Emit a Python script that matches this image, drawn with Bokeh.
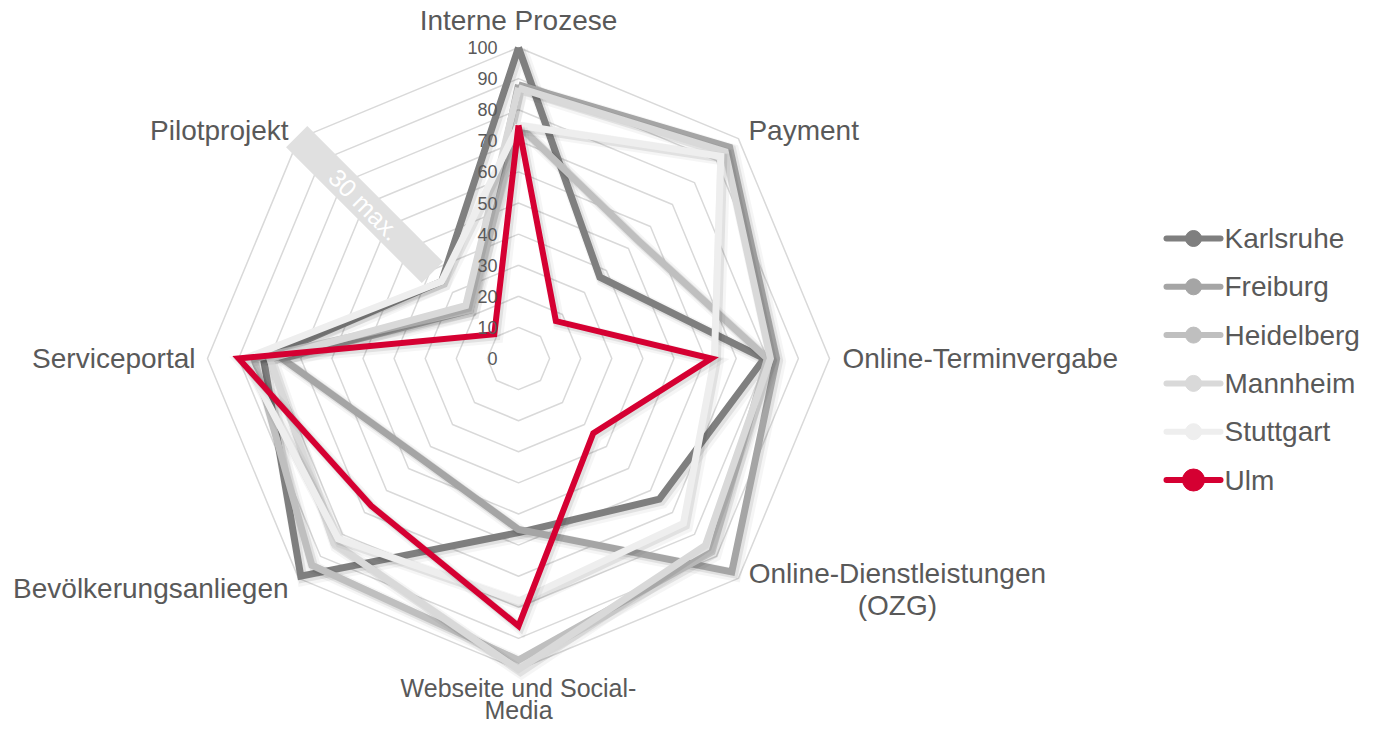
import math
from bokeh.plotting import figure
from bokeh.models import Range1d
from bokeh.core.properties import value
from bokeh.embed import file_html
from bokeh.resources import INLINE

# ---------------- data ----------------
categories = ["Interne Prozese", "Payment", "Online-Terminvergabe",
              "Online-Dienstleistungen\n(OZG)", "Webseite und Social-\nMedia",
              "Bevölkerungsanliegen", "Serviceportal", "Pilotprojekt"]
series_names = ["Karlsruhe", "Freiburg", "Heidelberg", "Mannheim", "Stuttgart", "Ulm"]
karlsruhe = [100, 37, 79, 64, 56, 99, 82, 35]
freiburg = [88, 96, 83, 97, 55, 45, 76, 22]
heidelberg = [75, 54, 80, 88, 97, 94, 85, 22]
mannheim = [87, 94, 81, 85, 100, 84, 80, 24]
stuttgart = [75, 92, 63, 75, 78, 82, 88, 35]
ulm = [75, 17, 62, 34, 86, 67, 90, 11]
tick_values = [0, 10, 20, 30, 40, 50, 60, 70, 80, 90, 100]
note_text = "30 max."

series_values = [karlsruhe, freiburg, heidelberg, mannheim, stuttgart, ulm]
colors = ["#7f7f7f", "#a5a5a5", "#bfbfbf", "#d9d9d9", "#eeeeee", "#d50032"]
widths = [7, 7, 7, 7, 7, 6]

# ---------------- layout ----------------
W, H = 1364, 726
CX, CY = 518, 358          # picture coords of radar centre
S = 3.11                   # px per value unit
FONT = value("Liberation Sans")
TXT = "#595959"


def d(px, py):
    """picture pixel -> data coords"""
    return (px - CX) / S, (CY - py) / S


n = len(categories)
angles = [math.pi / 2 - 2 * math.pi * i / n for i in range(n)]


def polar(vals):
    xs = [v * math.cos(a) for v, a in zip(vals, angles)]
    ys = [v * math.sin(a) for v, a in zip(vals, angles)]
    return xs + xs[:1], ys + ys[:1]


x0, y1 = d(0, 0)
x1, y0 = d(W, H)
p = figure(width=W, height=H, x_range=Range1d(x0, x1), y_range=Range1d(y0, y1),
           output_backend="svg", toolbar_location=None, min_border=0,
           outline_line_color=None, background_fill_color="white")
p.axis.visible = False
p.grid.visible = False

# grid octagons
for t in tick_values[1:]:
    gx, gy = polar([t] * n)
    p.line(gx, gy, line_color="#d9d9d9", line_width=1.5)

# note box on Pilotprojekt axis
a_p = angles[7]
mid = 70
p.rect([mid * math.cos(a_p)], [mid * math.sin(a_p)], width=192, height=30,
       width_units="screen", height_units="screen", angle=-math.pi / 4,
       fill_color="#e0e0e0", line_color=None)

# series with soft shadow
for vals, col, w in zip(series_values, colors, widths):
    xs, ys = polar(vals)
    for off, extra, alpha in ((3.0, 6, 0.04), (2.0, 2, 0.08)):
        sh = off / S
        p.line([x + sh for x in xs], [y - sh for y in ys], line_color="#000000",
               line_alpha=alpha, line_width=w + extra, line_join="miter")
    p.line(xs, ys, line_color=col, line_width=w, line_join="miter")

p.text([mid * math.cos(a_p)], [mid * math.sin(a_p)], text=[note_text], angle=-math.pi / 4,
       text_align="center", text_baseline="middle", text_font=FONT,
       text_font_size="25px", text_color="white")

# tick labels (on top of the series)
tx = [-21 / S] * len(tick_values)
p.text(tx, tick_values, text=[str(t) for t in tick_values], text_align="right",
       text_baseline="middle", text_font=FONT, text_font_size="18px", text_color=TXT)

# category labels: (align, dx, dy of first line from the 100-vertex, line gap, font size)
label_layout = [("center", 0, -27, 32, 28), ("left", 10, -8, 32, 28), ("left", 13, 0, 32, 28),
                ("center", 159, -5, 32, 28), ("center", 0, 18, 22, 25),
                ("right", -10, 10, 32, 28), ("right", -12, 0, 32, 28), ("right", -10, -8, 32, 28)]
for cat, a, (al, dx, dy, gap, fs) in zip(categories, angles, label_layout):
    vx = CX + 100 * S * math.cos(a) + dx
    vy = CY - 100 * S * math.sin(a) + dy
    for k, ln in enumerate(cat.split("\n")):
        xx, yy = d(vx, vy + k * gap)
        p.text([xx], [yy], text=[ln], text_align=al, text_baseline="middle",
               text_font=FONT, text_font_size=f"{fs}px", text_color=TXT)

# legend
for i, (name, col) in enumerate(zip(series_names, colors)):
    py = 238 + 48.3 * i
    lx0, ly = d(1166, py)
    lx1, _ = d(1220, py)
    mx, _ = d(1193, py)
    tx0, _ = d(1224, py)
    p.line([lx0, lx1], [ly, ly], line_color=col, line_width=6, line_cap="round")
    p.scatter([mx], [ly], size=22 if name == "Ulm" else 16, marker="circle",
              fill_color=col, line_color=col)
    p.text([tx0], [ly], text=[name], text_align="left", text_baseline="middle",
           text_font=FONT, text_font_size="28px", text_color=TXT)

open("out.html", "w").write(file_html(p, INLINE))
